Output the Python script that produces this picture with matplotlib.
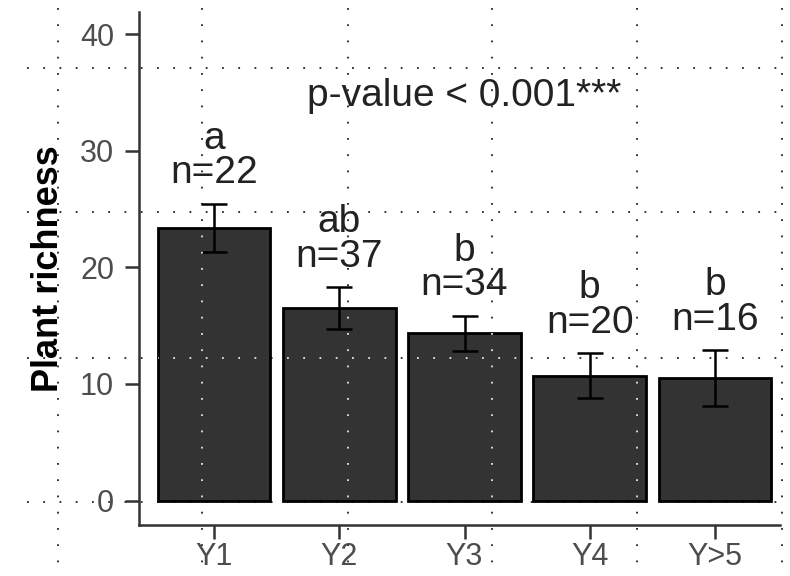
import matplotlib
matplotlib.use("Agg")
import matplotlib.pyplot as plt
from matplotlib.lines import Line2D
import numpy as np

plt.rcParams['font.family'] = ['Liberation Sans', 'DejaVu Sans']

# data
groups = ['Y1', 'Y2', 'Y3', 'Y4', 'Y>5']
richness = [23.4, 16.5, 14.35, 10.7, 10.5]
se = [2.05, 1.8, 1.5, 1.95, 2.4]
letters = ['a', 'ab', 'b', 'b', 'b']
n_obs = [22, 37, 34, 20, 16]

W, H = 790, 576
fig = plt.figure(figsize=(W / 100, H / 100), dpi=100)
fig.patch.set_facecolor('white')
ax = fig.add_axes([139 / W, 1 - 525 / H, (780 - 139) / W, (525 - 12) / H])
ax.patch.set_visible(False)

x = np.arange(len(groups))
bars = ax.bar(x, richness, 0.9, color='#333333', edgecolor='black',
              linewidth=2.0, zorder=2)
ax.errorbar(x, richness, yerr=se, fmt='none', ecolor='black',
            elinewidth=1.8, capsize=9.5, capthick=1.8, zorder=3)

for i in range(len(groups)):
    y0 = richness[i] + se[i] + 1.75
    ax.text(x[i], y0, 'n=%d' % n_obs[i], ha='center', va='baseline',
            fontsize=28, color='#222222', zorder=4)
    ax.annotate(letters[i], (x[i], y0), xytext=(0, 25), textcoords='offset points',
                ha='center', va='baseline', fontsize=28, color='#222222', zorder=4)

ax.text(2, 33.8, 'p-value < 0.001***', ha='center', va='baseline',
        fontsize=28, color='#222222')

ax.set_xlim(-0.6, 4.52)
ax.set_ylim(-2.1, 41.9)
ax.set_xticks(x)
ax.set_xticklabels(groups)
ax.set_yticks([0, 10, 20, 30, 40])
ax.tick_params(axis='both', labelsize=22, labelcolor='#4d4d4d', color='#333333',
               width=1.8, length=10)
ax.tick_params(axis='y', pad=8)
ax.tick_params(axis='x', pad=2)
for s in ['top', 'right']:
    ax.spines[s].set_visible(False)
for s in ['left', 'bottom']:
    ax.spines[s].set_linewidth(1.8)
    ax.spines[s].set_color('#333333')

ax.set_ylabel('Plant richness', fontsize=26, fontweight='bold', color='black')
ax.yaxis.set_label_coords(-0.114, 0.5)

# dotted paper grid lying over the whole picture
vx = [58, 202, 348, 492, 637, 782]
hy = [68, 212, 358, 502]
dots = dict(linestyle=(0, (1, 8)), linewidth=1.3)
for px in vx:
    fig.add_artist(Line2D([px / W, px / W], [1 - 8 / H, 0], transform=fig.transFigure,
                          color='#222222', zorder=-1, **dots))
for py in hy:
    fig.add_artist(Line2D([27 / W, 1], [1 - py / H, 1 - py / H], transform=fig.transFigure,
                          color='#222222', zorder=-1, **dots))

# the same dots show up light on the dark bars
inv = ax.transData.inverted()
for b in bars:
    for px in vx:
        (x0, y0), (x1, y1) = inv.transform([(px, H - 8), (px, 0)])
        ln, = ax.plot([x0, x1], [y0, y1], color='#e6e6e6', zorder=5, **dots)
        ln.set_clip_path(b)
    for py in hy:
        (x0, y0), (x1, y1) = inv.transform([(27, H - py), (W, H - py)])
        ln, = ax.plot([x0, x1], [y0, y1], color='#e6e6e6', zorder=5, **dots)
        ln.set_clip_path(b)
ax.set_xlim(-0.6, 4.52)
ax.set_ylim(-2.1, 41.9)

fig.savefig('out.png', dpi=100)
